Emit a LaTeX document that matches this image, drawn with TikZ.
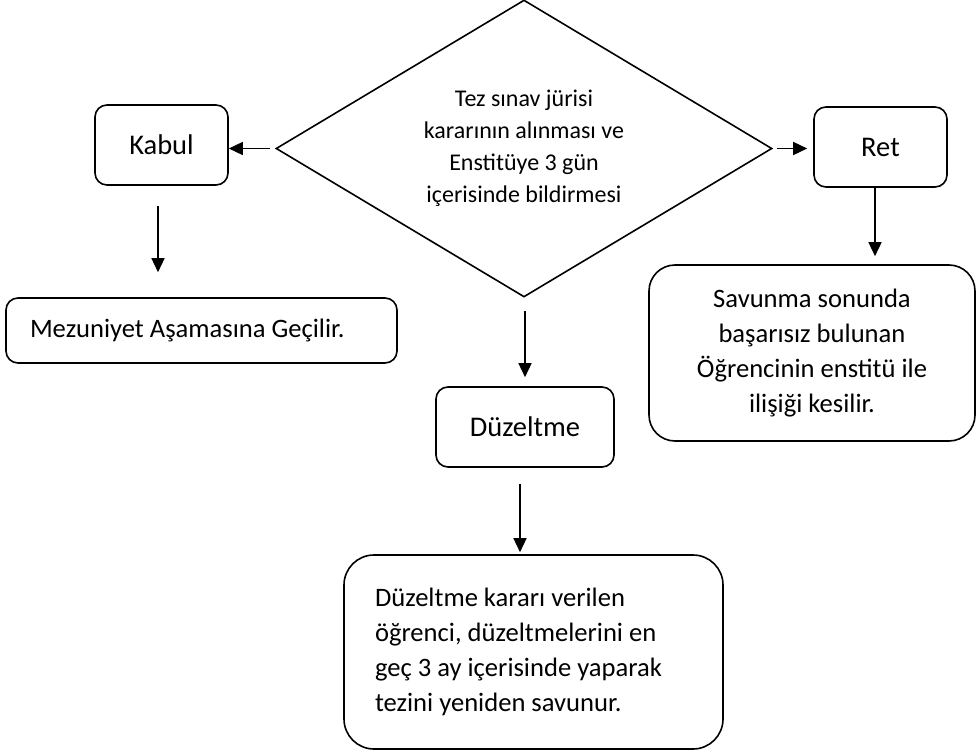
\documentclass[tikz,border=0pt]{standalone}
\usepackage{fontspec}
\setmainfont{Carlito}
\usetikzlibrary{shapes.geometric,arrows.meta}

\def\flowlw{1.6pt}
\def\plainspaces{\spaceskip=\fontdimen2\font\relax\xspaceskip=\fontdimen2\font\relax}

\tikzset{
    flowbox/.style={draw, line width=\flowlw, rounded corners=12pt, inner sep=0pt,
        font=\fontsize{28.5}{34}\selectfont, align=center},
    notebox/.style={draw, line width=\flowlw, inner ysep=0pt,
        execute at begin node={\plainspaces},
        font=\fontsize{26.6}{35}\selectfont},
    flowarrow/.style={line width=1.5pt, -{Triangle[length=14pt,width=13pt]}}
}

\begin{document}
\begin{tikzpicture}[x=1pt,y=-1pt]
        \useasboundingbox (0,0) rectangle (976,754);
        \node[draw, diamond, line width=\flowlw, inner sep=0pt, aspect=1.67,
              minimum width=496pt, minimum height=297pt, align=center,
              font=\fontsize{24}{32}\selectfont] (karar) at (524,148.5)
            {Tez s\i nav j\"urisi\\kararının alınması ve\\Enstitüye 3 gün\\içerisinde bildirmesi};
        \node[flowbox, minimum width=133pt, minimum height=80pt] (kabul) at (161.5,145) {Kabul};
        \node[flowbox, minimum width=133pt, minimum height=80pt] (ret) at (880.5,147) {Ret};
        \node[flowbox, minimum width=178pt, minimum height=80pt] (duzeltme) at (525,427) {Düzeltme};
        \node[notebox, rounded corners=12pt, minimum width=391pt, minimum height=65pt,
              inner xsep=24pt, text width=343pt, align=left] (mezuniyet) at (201.5,330.5)
            {Mezuniyet Aşamasına Geçilir.};
        \node[notebox, rounded corners=26pt, minimum width=326pt, minimum height=176pt,
              inner xsep=10pt, text width=306pt, align=center] (savunma) at (812,353)
            {Savunma sonunda\\başarısız bulunan\\Öğrencinin enstitü ile\\ilişiği kesilir.};
        \node[notebox, rounded corners=30pt, minimum width=379pt, minimum height=194pt,
              inner xsep=31pt, text width=317pt, align=left] (yeniden) at (533.5,652)
            {Düzeltme kararı verilen\\öğrenci, düzeltmelerini en\\geç 3 ay içerisinde yaparak\\tezini yeniden savunur.\\[-4pt]};
        % connectors
        \draw[flowarrow, shorten <=5pt] (karar.west) -- (karar.west -| kabul.east);
        \draw[flowarrow, shorten <=4pt, shorten >=6pt] (karar.east) -- (karar.east -| ret.west);
        \draw[flowarrow, shorten <=20pt, shorten >=25pt]
            ([xshift=-3.5pt]kabul.south) -- ([xshift=-3.5pt]kabul.south |- mezuniyet.north);
        \draw[flowarrow, shorten >=8pt]
            ([xshift=-5.5pt]ret.south) -- ([xshift=-5.5pt]ret.south |- savunma.north);
        \draw[flowarrow, shorten <=13pt, shorten >=9pt]
            ([xshift=1pt]karar.south) -- ([xshift=1pt]karar.south |- duzeltme.north);
        \draw[flowarrow, shorten <=16pt, shorten >=2pt]
            ([xshift=-5pt]duzeltme.south) -- ([xshift=-5pt]duzeltme.south |- yeniden.north);
\end{tikzpicture}
\end{document}
